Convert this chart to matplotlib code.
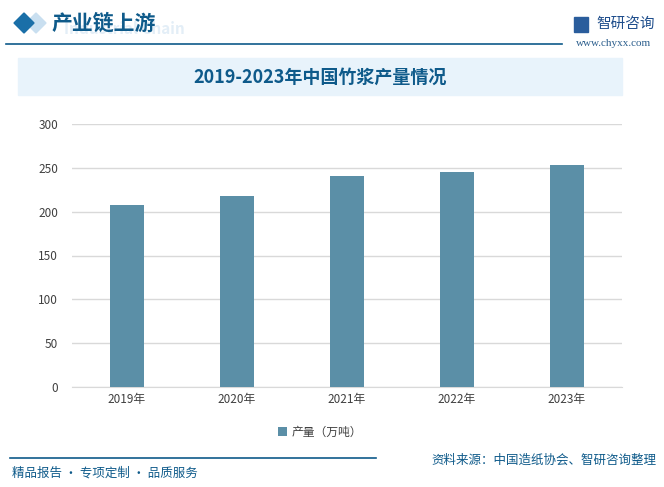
import matplotlib.pyplot as plt
from matplotlib.patches import Rectangle, Polygon

plt.rcParams['font.family'] = ['Noto Sans CJK SC', 'DejaVu Sans']

years = ['2019年', '2020年', '2021年', '2022年', '2023年']
output = [208, 218, 241, 245.5, 253.5]
y_ticks = [0, 50, 100, 150, 200, 250, 300]

bar_color = '#5b8fa7'
dark_blue = '#0e5a8a'

fig = plt.figure(figsize=(6.64, 4.87), dpi=100)
W, H = 664, 487


def fx(px):
    return px / W


def fy(py):
    return 1 - py / H


# header
fig.patches.append(Polygon([[fx(14), fy(23)], [fx(24), fy(13)], [fx(34), fy(23)], [fx(24), fy(33)]],
                           closed=True, transform=fig.transFigure, color='#1a6fa8'))
fig.patches.append(Polygon([[fx(26), fy(23)], [fx(36), fy(13)], [fx(46), fy(23)], [fx(36), fy(33)]],
                           closed=True, transform=fig.transFigure, color='#c9dff0', zorder=-1))
fig.text(fx(64), fy(29), 'Industrial Chain', fontsize=11, color='#e3eef7', fontweight='bold',
         va='center', ha='left', zorder=0)
fig.text(fx(52), fy(23), '产业链上游', fontsize=15, color=dark_blue, fontweight='bold',
         va='center', ha='left')
fig.add_artist(plt.Line2D([fx(6), fx(562)], [fy(44), fy(44)], color=dark_blue, lw=1.2))
fig.patches.append(Rectangle((fx(574), fy(32)), fx(14), 15 / H, transform=fig.transFigure,
                             color='#2a5d9c'))
fig.text(fx(596), fy(24), '智研咨询', fontsize=10.5, color='#1f4e8c', va='center', ha='left')
fig.text(fx(651), fy(44), 'www.chyxx.com', fontsize=8, color='#2a5d8c', va='center', ha='right',
         family=['Liberation Serif', 'DejaVu Serif'])

# title band
fig.patches.append(Rectangle((fx(18), fy(95)), fx(622 - 18), (95 - 58) / H,
                             transform=fig.transFigure, color='#e8f3fb', zorder=0))
fig.text(fx(320), fy(77), '2019-2023年中国竹浆产量情况', fontsize=13, color=dark_blue,
         fontweight='bold', va='center', ha='center')

# chart
ax = fig.add_axes([fx(72), fy(387), fx(622 - 72), (387 - 124) / H])
x = range(len(years))
ax.bar(x, output, width=0.31, color=bar_color, zorder=3, label='产量（万吨）')
ax.set_xlim(-0.5, len(years) - 0.5)
ax.set_ylim(0, 300)
ax.set_yticks(y_ticks)
ax.set_xticks(list(x))
ax.set_xticklabels(years)
ax.yaxis.grid(True, color='#d9d9d9', lw=1, zorder=0)
for s in ['top', 'right', 'left']:
    ax.spines[s].set_visible(False)
ax.spines['bottom'].set_color('#d9d9d9')
ax.tick_params(axis='both', length=0, labelsize=8.5, colors='#404040')
ax.tick_params(axis='y', pad=10)
ax.tick_params(axis='x', pad=4)
ax.legend(loc='center', bbox_to_anchor=(fx(320), fy(432)), bbox_transform=fig.transFigure,
          frameon=False, fontsize=8.5, handlelength=0.7, handleheight=0.7, handletextpad=0.4,
          labelcolor='#404040')

# footer
fig.add_artist(plt.Line2D([fx(10), fx(376)], [fy(458), fy(458)], color=dark_blue, lw=1.2))
fig.text(fx(12), fy(473), '精品报告 · 专项定制 · 品质服务', fontsize=9, color=dark_blue,
         va='center', ha='left')
fig.text(fx(656), fy(460), '资料来源：中国造纸协会、智研咨询整理', fontsize=9, color=dark_blue,
         va='center', ha='right')

fig.savefig('out.png', dpi=100)
